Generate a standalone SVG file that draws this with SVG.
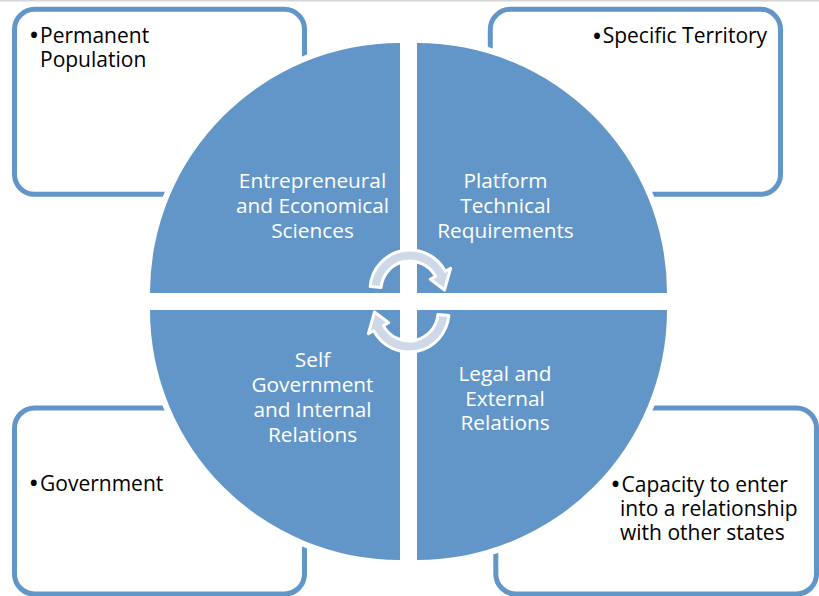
<svg xmlns="http://www.w3.org/2000/svg" width="819" height="596" viewBox="0 0 819 596">
  <style>
    .box { fill: #ffffff; stroke: #6296c8; stroke-width: 5; }
    .quad { fill: #6296c8; stroke: #ffffff; stroke-width: 12; paint-order: stroke; stroke-linejoin: miter; }
    .qt { font-family: "Open Sans", "Noto Sans", sans-serif; font-size: 20.8px; fill: #ffffff; text-anchor: middle; }
    .bt { font-family: "Open Sans", "Noto Sans", sans-serif; font-size: 21px; fill: #000000; }
    .bul { font-size: 28px; }
    .arrow { fill: #cdd9e8; stroke: #ffffff; stroke-width: 3; stroke-linejoin: round; }
  </style>
  <defs>
    <path id="circArrow" d="M370.15,286.51 A40,40 0 0 1 445.32,271.22 L450.61,268.40 L444.5,290 L430.31,279.20 L435.60,276.39 A29,29 0 0 0 381.11,287.47 Z"/>
  </defs>
  <rect x="0" y="0" width="819" height="596" fill="#ffffff"/>
  <rect x="0" y="0" width="819" height="1.5" fill="#d6d6d6"/>

  <g id="box-permanent-population">
    <rect class="box" x="14.5" y="9.3" width="290" height="185" rx="20" ry="20"/>
    <text class="bt"><tspan class="bul" x="28.7" y="45.2">•</tspan><tspan x="40" y="42.7">Permanent</tspan><tspan x="40" y="66.7">Population</tspan></text>
  </g>
  <g id="box-specific-territory">
    <rect class="box" x="490.3" y="9.3" width="290.2" height="185" rx="20" ry="20"/>
    <text class="bt"><tspan class="bul" x="591.7" y="45.8">•</tspan><tspan x="602.7" y="43.3">Specific Territory</tspan></text>
  </g>
  <g id="box-government">
    <rect class="box" x="14.5" y="408" width="290" height="186" rx="20" ry="20"/>
    <text class="bt"><tspan class="bul" x="28.5" y="493.2">•</tspan><tspan x="40" y="490.7">Government</tspan></text>
  </g>
  <g id="box-capacity">
    <rect class="box" x="495.8" y="408" width="320.7" height="186" rx="20" ry="20"/>
    <text class="bt"><tspan class="bul" x="610.2" y="494.2">•</tspan><tspan x="621.5" y="491.7">Capacity to enter</tspan><tspan x="620" y="515.5">into a relationship</tspan><tspan x="620" y="540">with other states</tspan></text>
  </g>

  <g id="quad-entrepreneural">
    <path class="quad" d="M400,293 L150,293 A250,250 0 0 1 400,43 Z"/>
    <text class="qt"><tspan x="312.5" y="188">Entrepreneural</tspan><tspan x="312.5" y="213">and Economical</tspan><tspan x="312.5" y="238">Sciences</tspan></text>
  </g>
  <g id="quad-platform">
    <path class="quad" d="M417,293 L417,43 A250,250 0 0 1 667,293 Z"/>
    <text class="qt"><tspan x="505.5" y="188">Platform</tspan><tspan x="505.5" y="213">Technical</tspan><tspan x="505.5" y="238">Requirements</tspan></text>
  </g>
  <g id="quad-self-government">
    <path class="quad" d="M400,310 L400,560 A250,250 0 0 1 150,310 Z"/>
    <text class="qt"><tspan x="312.5" y="367">Self</tspan><tspan x="312.5" y="392">Government</tspan><tspan x="312.5" y="417">and Internal</tspan><tspan x="312.5" y="442">Relations</tspan></text>
  </g>
  <g id="quad-legal">
    <path class="quad" d="M417,310 L667,310 A250,250 0 0 1 417,560 Z"/>
    <text class="qt"><tspan x="505" y="381">Legal and</tspan><tspan x="505" y="405.5">External</tspan><tspan x="505" y="430">Relations</tspan></text>
  </g>

  <g id="connectors">
    <use href="#circArrow" class="arrow"/>
    <use href="#circArrow" class="arrow" transform="rotate(180 409.5 301)"/>
  </g>
</svg>
